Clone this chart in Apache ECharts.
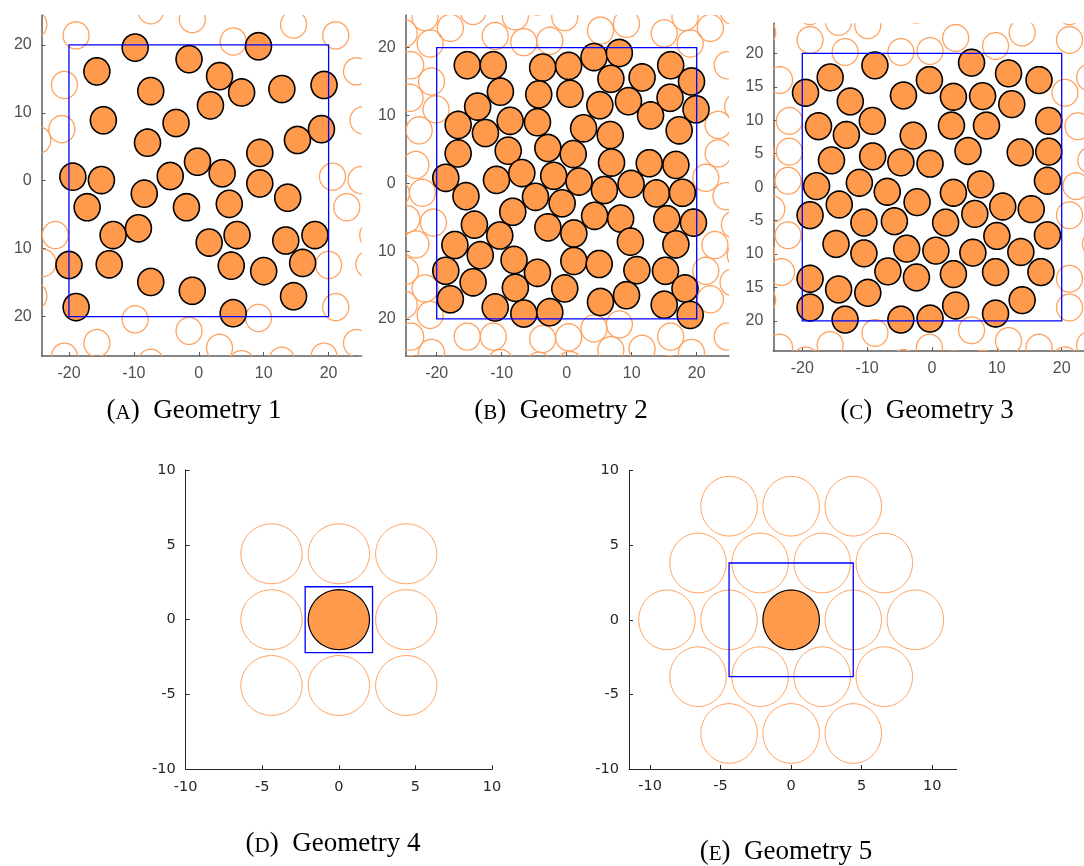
<!DOCTYPE html>
<html>
<head>
<meta charset="utf-8">
<script src="https://cdn.jsdelivr.net/npm/echarts@6/dist/echarts.min.js"></script>
<style>
  html, body { margin: 0; padding: 0; background: #ffffff; }
  #chart { width: 1084px; height: 866px; }
</style>
</head>
<body>
<div id="chart"></div>
<script>
// Particle radius (same for every geometry)
const radius = 2;

// Geometry 1: particle centres inside the periodic cell
const circlesA = [
  [-9.8, 19.6], [9.2, 19.8], [-1.5, 17.9], [-15.7, 16.1], [3.2, 15.4], [-7.4, 13.2], [6.6, 13.0],
  [12.8, 13.5], [19.3, 14.1], [1.8, 11.1], [-14.7, 8.9], [-3.5, 8.5], [-7.9, 5.6], [15.2, 6.0],
  [18.9, 7.6], [9.4, 4.1], [-0.2, 2.8], [-19.4, 0.6], [-15.0, 0.1], [-4.4, 0.7], [3.6, 1.1],
  [9.4, -0.4], [-17.2, -3.9], [-8.4, -1.9], [-1.9, -3.9], [4.7, -3.4], [13.7, -2.5], [-13.2, -8.0],
  [-9.3, -7.0], [1.6, -9.1], [5.9, -8.0], [13.4, -8.8], [17.9, -8.0], [-20.0, -12.4], [-13.8, -12.3],
  [5.0, -12.5], [10.0, -13.3], [16.0, -12.1], [-7.4, -14.9], [-1.0, -16.2], [14.6, -17.0],
  [-18.9, -18.6], [5.3, -19.5]
];

// Geometry 2
const circlesB = [
  [-15.3, 17.4], [-11.3, 17.4], [-3.7, 17.05], [0.3, 17.3], [4.2, 18.6], [8.1, 19.2], [16.0, 17.4],
  [6.8, 15.4], [11.6, 15.6], [19.2, 15.0], [-10.2, 13.5], [-4.3, 13.1], [0.5, 13.2], [5.1, 11.5],
  [9.5, 12.1], [15.9, 12.6], [19.9, 10.9], [12.9, 10.0], [-13.7, 11.3], [-16.7, 8.6], [-12.5, 7.4],
  [-8.7, 9.2], [-4.5, 9.0], [2.6, 8.1], [6.7, 7.1], [17.3, 7.8], [-16.7, 4.4], [-9.0, 4.8],
  [-2.9, 5.2], [1.0, 4.3], [6.9, 3.05], [12.7, 2.95], [16.8, 2.7], [-18.6, 0.8], [-10.8, 0.5],
  [-6.9, 1.5], [-2.0, 1.1], [1.9, 0.25], [5.8, -1.0], [9.9, -0.1], [13.8, -1.5], [17.8, -1.4],
  [-15.5, -1.9], [-4.8, -2.0], [-0.7, -2.95], [-8.3, -4.2], [4.3, -4.8], [8.3, -5.2], [15.4, -5.3],
  [19.5, -5.8], [-14.2, -6.1], [-2.9, -6.5], [1.1, -7.4], [-10.3, -7.7], [-17.2, -9.1], [9.8, -8.6],
  [16.8, -9.0], [-13.3, -10.6], [-8.1, -11.3], [1.1, -11.45], [5.0, -11.9], [-18.6, -12.9],
  [-4.5, -13.2], [10.8, -12.8], [15.2, -12.9], [-14.4, -14.6], [-7.9, -15.4], [-0.3, -15.5],
  [18.2, -15.5], [-17.9, -17.1], [9.2, -16.5], [5.2, -17.5], [-11.0, -18.3], [-6.6, -19.2],
  [-2.6, -19.0], [15.0, -17.9], [19.0, -19.4]
];

// Geometry 3
const circlesC = [
  [-8.8, 18.2], [-15.7, 16.4], [-19.5, 14.1], [-12.6, 12.8], [-4.4, 13.7], [-0.4, 16.0], [6.1, 18.6],
  [11.8, 17.0], [16.5, 16.0], [3.3, 13.5], [7.8, 13.6], [12.3, 12.4], [-17.5, 9.1], [-9.2, 9.9],
  [-13.2, 7.8], [-2.9, 7.7], [3.0, 9.2], [8.4, 9.2], [18.0, 9.9], [5.55, 5.4], [13.6, 5.2],
  [18.0, 5.3], [-15.5, 4.0], [-9.15, 4.6], [-4.8, 3.7], [-0.3, 3.5], [17.8, 0.95], [-17.8, 0.15],
  [-11.2, 0.65], [-6.9, -0.7], [3.3, -0.85], [7.5, 0.4], [-18.8, -4.2], [-14.3, -2.6], [-2.3, -2.25],
  [-10.5, -5.3], [-5.8, -5.1], [2.1, -5.3], [6.6, -4.0], [10.9, -2.9], [15.3, -3.3], [17.8, -7.2],
  [10.0, -7.3], [-14.8, -8.5], [-10.5, -9.9], [-3.9, -9.2], [0.6, -9.5], [6.3, -9.8], [13.7, -9.7],
  [-18.8, -13.7], [-6.8, -12.6], [-2.4, -13.5], [3.3, -13.0], [9.8, -12.7], [16.8, -12.7],
  [-14.4, -15.3], [-9.9, -15.8], [-18.8, -18.0], [-13.4, -19.8], [-4.8, -19.8], [-0.3, -19.65],
  [3.65, -17.7], [9.8, -18.9], [13.9, -16.9]
];

// Geometry 4: single particle in a square cell, with its neighbouring images
const circlesD = [[0, 0]];
const ghostsD = [
  [-4.4, 4.4], [0, 4.4], [4.4, 4.4],
  [-4.4, 0], [4.4, 0],
  [-4.4, -4.4], [0, -4.4], [4.4, -4.4]
];

// Geometry 5: single particle with hexagonal neighbours
const circlesE = [[0, 0]];
const ghostsE = [
  [-4.4, 7.62], [0, 7.62], [4.4, 7.62],
  [-6.6, 3.81], [-2.2, 3.81], [2.2, 3.81], [6.6, 3.81],
  [-8.8, 0], [-4.4, 0], [4.4, 0], [8.8, 0],
  [-6.6, -3.81], [-2.2, -3.81], [2.2, -3.81], [6.6, -3.81],
  [-4.4, -7.62], [0, -7.62], [4.4, -7.62]
];

// Cell outlines: [xmin, xmax, ymin, ymax]
const cellA = [-20, 20, -20, 20];
const cellB = [-20, 20, -20, 20];
const cellC = [-20, 20, -20, 20];
const cellD = [-2.2, 2.2, -2.2, 2.2];
const cellE = [-4.4, 4.4, -3.81, 3.81];

// Tick positions and the labels printed at them
const xTicksABC = [-20, -10, 0, 10, 20];
const xLabelsABC = ['-20', '-10', '0', '10', '20'];
const yTicksAB = [-20, -10, 0, 10, 20];
const yLabelsAB = ['20', '10', '0', '10', '20'];
const yTicksC = [-20, -15, -10, -5, 0, 5, 10, 15, 20];
const yLabelsC = ['20', '15', '10', '-5', '0', '5', '10', '15', '20'];
const ticksDE = [-10, -5, 0, 5, 10];
const labelsDE = ['-10', '-5', '0', '5', '10'];

// Caption parts
const captionTags = ['A', 'B', 'C', 'D', 'E'];
const captionNames = ['Geometry 1', 'Geometry 2', 'Geometry 3', 'Geometry 4', 'Geometry 5'];

// Periodic images of the particles in the eight neighbouring cells
function periodicImages(pts, cell) {
  const lx = cell[1] - cell[0], ly = cell[3] - cell[2];
  const out = [];
  for (const sx of [-1, 0, 1]) {
    for (const sy of [-1, 0, 1]) {
      if (sx === 0 && sy === 0) continue;
      for (const p of pts) out.push([p[0] + sx * lx, p[1] + sy * ly]);
    }
  }
  return out;
}

const ORANGE = '#FF9A4D';
const GHOST = '#FFA25E';

const panels = [
  { grid: { left: 41.7, top: 15, width: 320, height: 341 }, x: [-24.2, 25.1], y: [-25.8, 24.4],
    filled: circlesA, ghosts: periodicImages(circlesA, cellA), cell: cellA,
    xt: xTicksABC, xl: xLabelsABC, yt: yTicksAB, yl: yLabelsAB, big: true },
  { grid: { left: 405.7, top: 15, width: 323.3, height: 341 }, x: [-24.77, 24.97], y: [-25.46, 24.8],
    filled: circlesB, ghosts: periodicImages(circlesB, cellB), cell: cellB,
    xt: xTicksABC, xl: xLabelsABC, yt: yTicksAB, yl: yLabelsAB, big: true },
  { grid: { left: 773.3, top: 23.2, width: 317.6, height: 327.8 }, x: [-24.47, 24.5], y: [-24.5, 24.5],
    filled: circlesC, ghosts: periodicImages(circlesC, cellC), cell: cellC,
    xt: xTicksABC, xl: xLabelsABC, yt: yTicksC, yl: yLabelsC, big: true },
  { grid: { left: 185.7, top: 470, width: 306.3, height: 299.3 }, x: [-10, 10], y: [-10, 10],
    filled: circlesD, ghosts: ghostsD, cell: cellD,
    xt: ticksDE, xl: labelsDE, yt: ticksDE, yl: labelsDE, big: false },
  { grid: { left: 629, top: 470.7, width: 327.7, height: 298.3 }, x: [-11.49, 11.73], y: [-10, 10],
    filled: circlesE, ghosts: ghostsE, cell: cellE,
    xt: ticksDE, xl: labelsDE, yt: ticksDE, yl: labelsDE, big: false }
];

const captionPos = [
  { x: 194, y: 418 }, { x: 561, y: 418 }, { x: 927, y: 418 },
  { x: 333, y: 851 }, { x: 786, y: 859 }
];

function circleRenderer(fill, stroke, lw) {
  return function (params, api) {
    const cx = api.value(0), cy = api.value(1);
    const pts = [];
    const n = 72;
    for (let k = 0; k < n; k++) {
      const a = (k / n) * 2 * Math.PI;
      pts.push(api.coord([cx + radius * Math.cos(a), cy + radius * Math.sin(a)]));
    }
    const cs = params.coordSys;
    return {
      type: 'polygon',
      shape: { points: pts },
      style: { fill: fill, stroke: stroke, lineWidth: lw },
      clipPath: { type: 'rect', shape: { x: cs.x, y: cs.y, width: cs.width, height: cs.height } }
    };
  };
}

function cellRenderer(params, api) {
  const p1 = api.coord([api.value(0), api.value(3)]);
  const p2 = api.coord([api.value(1), api.value(2)]);
  return {
    type: 'rect',
    shape: { x: p1[0], y: p1[1], width: p2[0] - p1[0], height: p2[1] - p1[1] },
    style: { fill: null, stroke: '#0000FF', lineWidth: 1.3 }
  };
}

function makeAxis(i, range, ticks, labels, big) {
  const col = big ? '#5c5c5c' : '#262626';
  return {
    type: 'value', gridIndex: i, min: range[0], max: range[1],
    axisLine: { show: true, onZero: false, lineStyle: { color: col, width: big ? 1.5 : 1 } },
    axisTick: { show: true, inside: true, length: 4, customValues: ticks, lineStyle: { color: col, width: 1 } },
    axisLabel: {
      show: true, customValues: ticks,
      formatter: function (v) { const k = ticks.indexOf(v); return k >= 0 ? labels[k] : ''; },
      color: big ? '#505050' : '#262626',
      fontFamily: big ? 'Liberation Sans' : 'DejaVu Sans',
      fontSize: big ? 16 : 14.5,
      margin: big ? 10 : 10
    },
    splitLine: { show: false }
  };
}

const grids = [], xAxes = [], yAxes = [], series = [];
panels.forEach(function (p, i) {
  grids.push(Object.assign({ containLabel: false, outerBoundsMode: 'none' }, p.grid));
  xAxes.push(makeAxis(i, p.x, p.xt, p.xl, p.big));
  yAxes.push(makeAxis(i, p.y, p.yt, p.yl, p.big));
  series.push({
    type: 'custom', xAxisIndex: i, yAxisIndex: i, z: 2, silent: true,
    renderItem: circleRenderer(null, GHOST, p.big ? 1.3 : 1),
    data: p.ghosts
  });
  series.push({
    type: 'custom', xAxisIndex: i, yAxisIndex: i, z: 3, silent: true,
    renderItem: circleRenderer(ORANGE, '#000000', p.big ? 1.6 : 1.2),
    data: p.filled
  });
  series.push({
    type: 'custom', xAxisIndex: i, yAxisIndex: i, z: 4, silent: true,
    renderItem: cellRenderer,
    data: [p.cell]
  });
});

const captions = captionPos.map(function (c, i) {
  return {
    type: 'text', x: c.x, y: c.y + 6,
    style: {
      text: '{p|(}{s|' + captionTags[i] + '}{p|)  ' + captionNames[i] + '}',
      align: 'center', verticalAlign: 'bottom',
      rich: {
        p: { fontFamily: 'Liberation Serif', fontSize: 27, fill: '#000', verticalAlign: 'bottom' },
        s: { fontFamily: 'Liberation Serif', fontSize: 21, fill: '#000', verticalAlign: 'bottom' }
      }
    }
  };
});

const chart = echarts.init(document.getElementById('chart'), null, { renderer: 'canvas' });
chart.setOption({
  backgroundColor: '#ffffff',
  animation: false,
  grid: grids,
  xAxis: xAxes,
  yAxis: yAxes,
  series: series,
  graphic: captions
});
</script>
</body>
</html>
